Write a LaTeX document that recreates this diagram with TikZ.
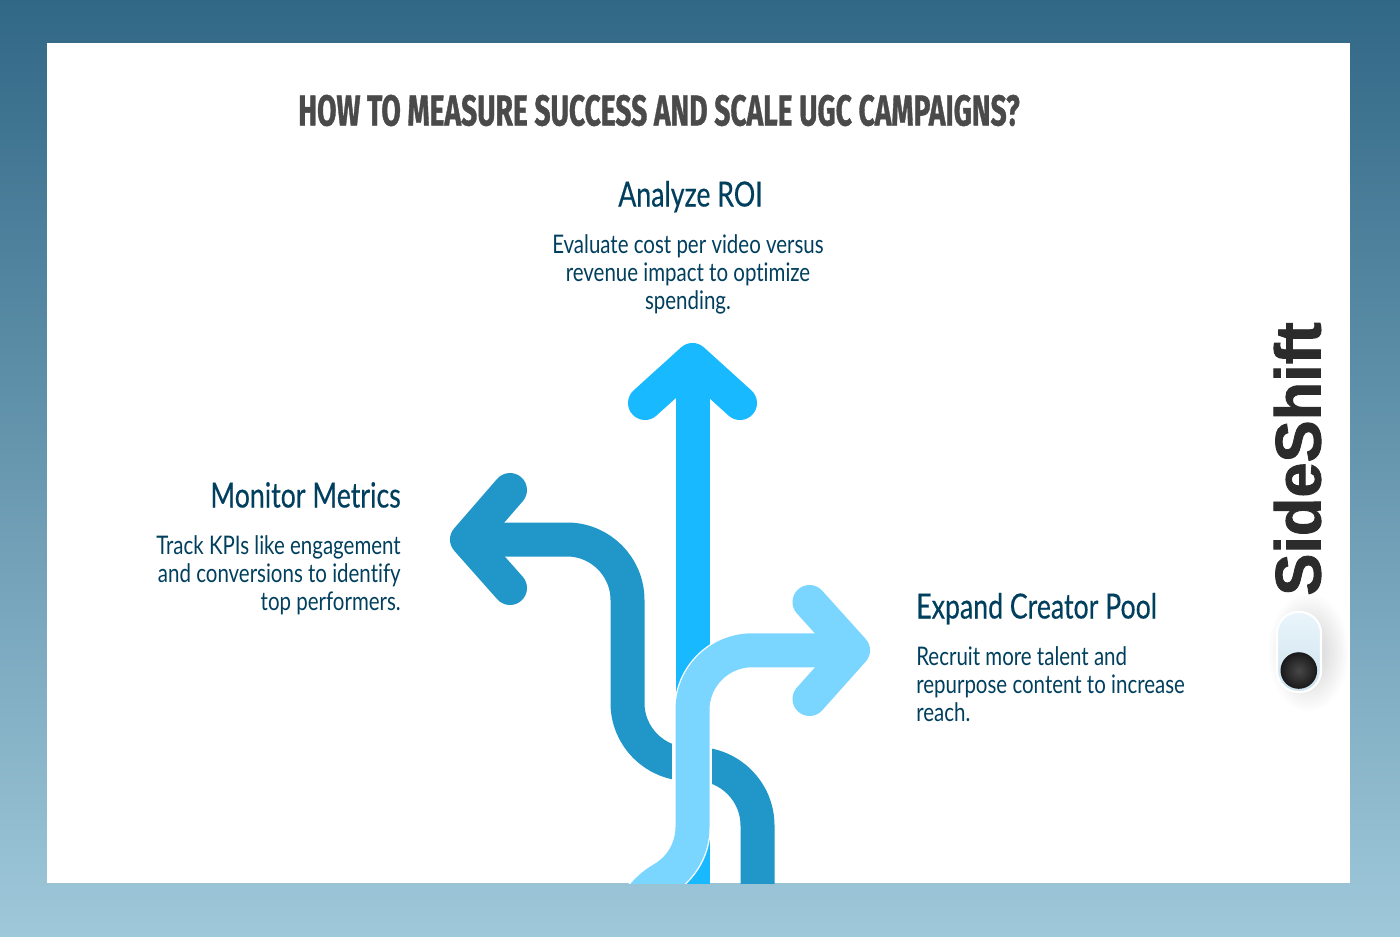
\documentclass[tikz,border=0pt]{standalone}
\usepackage{fontspec}
\usepackage{graphicx}
\setmainfont{Lato}
\newfontfamily\bodyfont[FakeStretch=0.80,Ligatures=NoCommon]{Lato}
\newfontfamily\headfont[FakeStretch=0.77,FakeBold=0.35,Ligatures=NoCommon]{Lato}
\newfontfamily\titlefont[BoldFeatures={FakeBold=1.2}]{Fira Sans}
\newfontfamily\logofont[BoldFeatures={FakeBold=1.4}]{Liberation Sans}
\definecolor{bgtop}{HTML}{316886}
\definecolor{bgbottom}{HTML}{9FC8DA}
\definecolor{brightblue}{HTML}{18B9FF}
\definecolor{darkblue}{HTML}{2196C9}
\definecolor{lightblue}{HTML}{7AD6FF}
\definecolor{inktext}{HTML}{003F5E}
\definecolor{titlegrey}{HTML}{4A4A4A}
\definecolor{logoink}{HTML}{2B2B2B}
\definecolor{toggletop}{HTML}{EAF5FB}
\definecolor{togglebot}{HTML}{CDE2EE}
\tikzset{
  arrowline/.style={line width=25.5pt,line join=round,line cap=round},
  shaftline/.style={line width=25.5pt,line join=round,line cap=butt},
  headinglabel/.style={inktext,font=\headfont\fontsize{26pt}{29pt}\selectfont,inner sep=0pt},
  bodylabel/.style={inktext,font=\bodyfont\fontsize{19.2pt}{21pt}\selectfont,inner sep=0pt}
}
\begin{document}
\begin{tikzpicture}[x=0.75pt,y=-0.75pt]
\useasboundingbox (0,0) rectangle (1400,936);
\shade[top color=bgtop,bottom color=bgbottom] (0,0) rectangle (1400,936);
\fill[white] (47,43) rectangle (1350,883);

\begin{scope}
\clip (47,43) rectangle (1350,883);
% up arrow
\draw[shaftline,brightblue] (692.5,360) -- (692.5,900);
\draw[arrowline,brightblue] (645,403) -- (692.5,360) -- (740,403);
% left arrow
\draw[shaftline,darkblue] (467,539.5) -- (567,539.5)
  arc[start angle=-90,end angle=0,radius=60.5] -- (627.5,703)
  arc[start angle=180,end angle=90,radius=61] -- (696,764)
  arc[start angle=-90,end angle=0,radius=61.5] -- (757.5,900);
\draw[arrowline,darkblue] (510,490) -- (467,539.5) -- (510,588);
% gap in the dark ribbon
\fill[white] (672.3,730) rectangle (712,795);
% right arrow, with its thin white edge
\def\lightpath{(853,650.3) -- (752,650.3)
  arc[start angle=-90,end angle=-180,radius=59.5] -- (692.5,827)
  arc[start angle=0,end angle=60,radius=60]
  .. controls (652,885) and (644,892) .. (628,915)}
\draw[line width=27.5pt,white,line join=round] \lightpath;
\draw[shaftline,lightblue] \lightpath;
\draw[arrowline,lightblue] (809.5,602) -- (853,650.3) -- (809.5,699);
\end{scope}

% title
\node[inner sep=0pt,anchor=center,text=titlegrey] (title) at (659,110.5)
  {\resizebox{541pt}{23pt}{\titlefont\bfseries HOW TO MEASURE SUCCESS AND SCALE UGC CAMPAIGNS?}};

% labels
\node[headinglabel,anchor=base] (roihead) at (690.5,206.5) {Analyze ROI};
\node[bodylabel,anchor=base,align=center] (roibody) at (688,309) {Evaluate cost per video versus\\revenue impact to optimize\\spending.};
\node[headinglabel,anchor=base east] (monhead) at (401,507.5) {Monitor Metrics};
\node[bodylabel,anchor=base east,align=right] (monbody) at (401,610) {Track KPIs like engagement\\and conversions to identify\\top performers.};
\node[headinglabel,anchor=base west] (exphead) at (916,618.5) {Expand Creator Pool};
\node[bodylabel,anchor=base west,align=left] (expbody) at (916,721) {Recruit more talent and\\repurpose content to increase\\reach.};

% logo
\shade[inner color=black!20,outer color=white] (1308,652) ellipse [x radius=41,y radius=60];
\node[inner sep=0pt,rotate=90,text=logoink] (logo) at (1297.5,459)
  {\resizebox{205pt}{35pt}{\logofont\bfseries SideShift}};
\draw[white,line width=1.6pt,top color=toggletop,bottom color=togglebot,rounded corners=16pt]
  (1277,612) rectangle (1321,692);
\shade[inner color=black!72,outer color=black!90] (1298.8,670.5) circle [radius=18.3];
\end{tikzpicture}
\end{document}
